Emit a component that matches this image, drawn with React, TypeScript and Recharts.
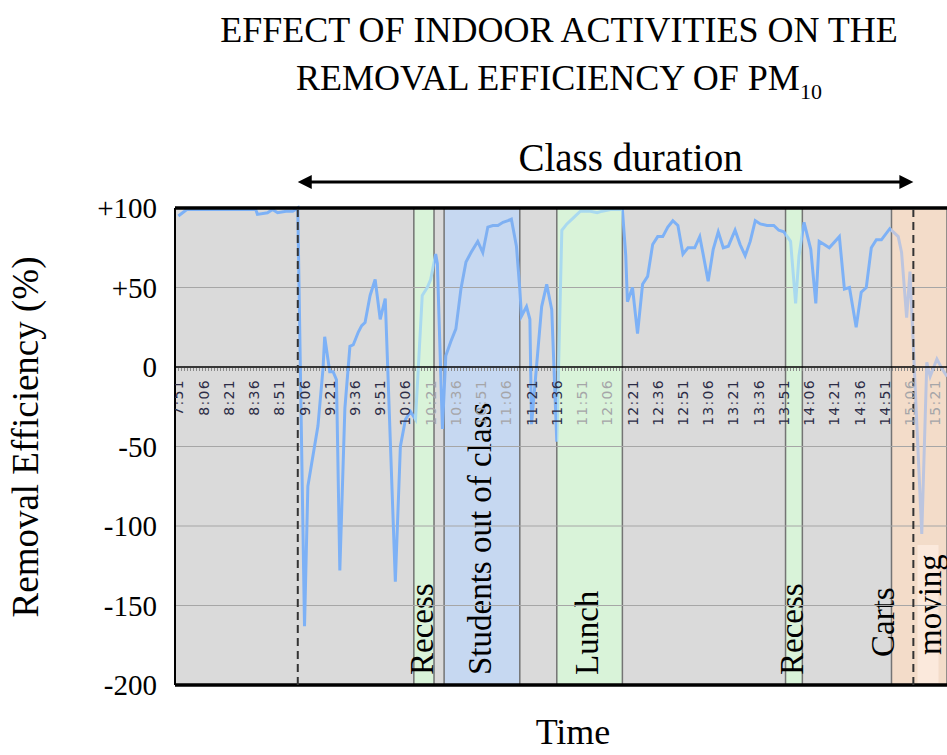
import React from 'react';
import {
  ComposedChart,
  Line,
  Scatter,
  XAxis,
  YAxis,
  CartesianGrid,
  ReferenceArea,
  ReferenceLine
} from 'recharts';

// time of reading (h:mm) and removal efficiency (%)
const times = [
  '7:51', '7:56', '8:37', '8:38', '8:44', '8:47', '8:50', '8:55', '8:59', '9:02',
  '9:06', '9:08', '9:14', '9:17', '9:18', '9:21', '9:23', '9:25', '9:27', '9:30',
  '9:33', '9:35', '9:38', '9:40', '9:42', '9:45', '9:48', '9:51', '9:54', '10:00',
  '10:03', '10:06', '10:09', '10:12', '10:16', '10:19', '10:21', '10:24', '10:25', '10:28',
  '10:30', '10:33', '10:36', '10:39', '10:42', '10:45', '10:49', '10:52', '10:55', '10:58',
  '11:01', '11:04', '11:07', '11:09', '11:12', '11:14', '11:15', '11:17', '11:18', '11:20',
  '11:21', '11:27', '11:30', '11:33', '11:36', '11:39', '11:42', '11:46', '11:50', '11:56',
  '12:00', '12:03', '12:08', '12:15', '12:17', '12:18', '12:21', '12:24', '12:27', '12:30',
  '12:33', '12:36', '12:39', '12:42', '12:45', '12:48', '12:51', '12:54', '12:58', '13:01',
  '13:03', '13:06', '13:09', '13:12', '13:15', '13:18', '13:22', '13:25', '13:28', '13:31',
  '13:34', '13:37', '13:41', '13:45', '13:48', '13:51', '13:55', '13:58', '14:00', '14:03',
  '14:07', '14:10', '14:12', '14:15', '14:18', '14:24', '14:27', '14:30', '14:34', '14:37',
  '14:40', '14:43', '14:46', '14:49', '14:54', '14:59', '15:01', '15:04', '15:06', '15:13',
  '15:16', '15:18', '15:22', '15:25', '15:28'
];
const removal = [
  95, 99, 99, 96, 97, 99, 97, 98, 98, 100,
  -163, -75, -37, -1, 19, -3, -3, -8, -128, -26,
  13, 14, 22, 26, 28, 45, 55, 30, 43, -135,
  -50, -33, -28, -33, 45, 50, 55, 71, 65, -39,
  7, 16, 24, 49, 66, 72, 79, 72, 88, 89,
  89, 91, 92, 93, 76, 49, 32, 36, 38, 30,
  -36, 38, 52, 36, -47, 86, 90, 94, 98, 98,
  97, 98, 99, 99, 70, 41, 50, 21, 52, 57,
  77, 82, 82, 88, 92, 89, 71, 75, 75, 82,
  71, 54, 74, 85, 75, 76, 86, 77, 70, 79,
  92, 90, 89, 89, 86, 85, 79, 40, 70, 91,
  74, 40, 79, 77, 75, 82, 49, 50, 25, 47,
  50, 75, 80, 80, 87, 82, 72, 31, 60, -105,
  3, -6, 5, -1, -6
];

const tickTimes = [
  '7:51', '8:06', '8:21', '8:36', '8:51', '9:06', '9:21', '9:36', '9:51', '10:06',
  '10:21', '10:36', '10:51', '11:06', '11:21', '11:36', '11:51', '12:06', '12:21', '12:36',
  '12:51', '13:06', '13:21', '13:36', '13:51', '14:06', '14:21', '14:36', '14:51', '15:06',
  '15:21'
];
const yTicks = [-200, -150, -100, -50, 0, 50, 100];
const gridValues = [-150, -100, -50, 50];

// activity periods
const bandStarts = ['10:11', '10:29', '11:36', '13:52', '14:55'];
const bandEnds = ['10:23', '11:14', '12:15', '14:02', '15:28'];
const bandKinds = ['recess', 'out', 'lunch', 'recess', 'carts'];
const bandLabels = ['Recess', 'Students out of class', 'Lunch', 'Recess', 'Carts'];
const classStart = '9:02';
const classEnd = '15:08';
const viewStart = '7:49';
const viewEnd = '15:28';

const toMin = (s: string) => {
  const [h, m] = s.split(':').map(Number);
  return h * 60 + m;
};

const series = times.map((t, i) => ({ t: toMin(t), v: removal[i] }));
const tickRows = tickTimes.map((t) => ({ t: toMin(t), v: 0, label: t }));

const bandFill: Record<string, string> = {
  recess: '#d9f3d9',
  out: '#c6d8f1',
  lunch: '#d9f3d9',
  carts: '#f3dcc9'
};
const lineTint: Record<string, string> = {
  recess: '#a9d9ef',
  out: '#7fb0f2',
  lunch: '#a9d9ef',
  carts: '#bcc5df'
};
const BASE_LINE = '#7db1f6';
const SERIF = '"Liberation Serif", "Times New Roman", serif';

const t0 = series[0].t;
const t1 = series[series.length - 1].t;
const off = (t: number) => Math.min(1, Math.max(0, (t - t0) / (t1 - t0)));
const stops: { o: number; c: string }[] = [{ o: 0, c: BASE_LINE }];
bandStarts.forEach((s, i) => {
  const tint = lineTint[bandKinds[i]];
  stops.push({ o: off(toMin(s)), c: BASE_LINE }, { o: off(toMin(s)), c: tint });
  stops.push({ o: off(toMin(bandEnds[i])), c: tint });
  if (toMin(bandEnds[i]) < t1) stops.push({ o: off(toMin(bandEnds[i])), c: BASE_LINE });
});

const insideBand = (t: number) =>
  bandStarts.some((s, i) => t > toMin(s) && t < toMin(bandEnds[i]));

const TickLabel = (props: any) => {
  const { cx, cy, payload } = props;
  if (cx == null || cy == null) return null;
  return (
    <text
      transform={`translate(${cx},${cy + 12}) rotate(-90)`}
      textAnchor="end"
      dy="0.36em"
      fontFamily="DejaVu Sans, sans-serif"
      fontSize={14}
      letterSpacing={1.3}
      fill={insideBand(payload.t) ? '#a5a5a8' : '#2c2c46'}
    >
      {payload.label}
    </text>
  );
};

const vText = (x: number, y: number, s: string) => (
  <text
    transform={`translate(${x},${y}) rotate(-90)`}
    dy="0.33em"
    textAnchor="start"
    fontFamily={SERIF}
    fontSize={33}
    fill="#000"
  >
    {s}
  </text>
);

const bandLabel = (i: number) => (props: any) => {
  const vb = props.viewBox;
  if (!vb) return null;
  const bottom = vb.y + vb.height;
  if (bandKinds[i] === 'carts') {
    return (
      <g>
        {vText(vb.x - 8, bottom - 28, bandLabels[i])}
        <rect x={vb.x + 26} y={bottom - 140} width={21} height={138} fill="#fbe9dc" />
        {vText(vb.x + 39, bottom - 30, 'moving')}
      </g>
    );
  }
  return vText(vb.x + vb.width / 2 - 2, bottom - 10, bandLabels[i]);
};

const ClassArrow = (props: any) => {
  const { x1, y1, x2, y2 } = props;
  if (x1 == null) return null;
  return (
    <g>
      <line x1={x1 + 10} y1={y1} x2={x2 - 10} y2={y2} stroke="#000" strokeWidth={3} />
      <polygon points={`${x1},${y1} ${x1 + 14},${y1 - 7} ${x1 + 14},${y1 + 7}`} fill="#000" />
      <polygon points={`${x2},${y2} ${x2 - 14},${y2 - 7} ${x2 - 14},${y2 + 7}`} fill="#000" />
      <text
        x={(x1 + x2) / 2 + 25}
        y={y1 - 11}
        textAnchor="middle"
        fontFamily={SERIF}
        fontSize={39}
        fill="#000"
      >
        Class duration
      </text>
    </g>
  );
};

export default function App() {
  return (
    <div style={{ position: 'absolute', left: 0, top: 0, width: 947, height: 755, background: '#fff' }}>
      <ComposedChart
        width={947}
        height={755}
        data={series}
        margin={{ top: 208, right: 0, bottom: 70, left: 100 }}
      >
        <defs>
          <linearGradient id="effStroke" x1="0" y1="0" x2="1" y2="0">
            {stops.map((s, i) => (
              <stop key={i} offset={s.o} stopColor={s.c} />
            ))}
          </linearGradient>
        </defs>
        <CartesianGrid horizontal={false} vertical={false} fill="#dadada" />
        <XAxis
          dataKey="t"
          type="number"
          domain={[toMin(viewStart), toMin(viewEnd)]}
          allowDataOverflow
          hide
        />
        <YAxis
          type="number"
          domain={[-200, 100]}
          ticks={yTicks}
          interval={0}
          axisLine={false}
          tickLine={false}
          tickMargin={12}
          width={75}
          tickFormatter={(v: number) => (v > 0 ? `+${v}` : `${v}`)}
          tick={{ fontFamily: SERIF, fontSize: 29, fill: '#000' }}
        />
        {bandStarts.map((s, i) => (
          <ReferenceArea
            key={'band' + i}
            x1={toMin(s)}
            x2={toMin(bandEnds[i])}
            y1={-200}
            y2={100}
            fill={bandFill[bandKinds[i]]}
            fillOpacity={1}
            stroke="#747474"
            strokeWidth={1.5}
            label={bandLabel(i)}
          />
        ))}
        {gridValues.map((g) => (
          <ReferenceLine key={'g' + g} y={g} stroke="#a6a6a6" strokeWidth={1} zIndex={150} />
        ))}
        <ReferenceLine
          y={-1.5}
          stroke="#8a8a8a"
          strokeWidth={3}
          strokeDasharray="1 2"
          zIndex={150}
        />
        <Line
          type="linear"
          dataKey="v"
          stroke="url(#effStroke)"
          strokeWidth={3}
          dot={false}
          activeDot={false}
          isAnimationActive={false}
        />
        <ReferenceLine y={0} stroke="#000" strokeWidth={1.5} zIndex={450} />
        <ReferenceLine y={100} stroke="#000" strokeWidth={3.5} zIndex={450} />
        <ReferenceLine y={-200} stroke="#000" strokeWidth={3.5} zIndex={450} />
        <ReferenceLine x={toMin(viewStart)} stroke="#000" strokeWidth={2} zIndex={450} />
        <ReferenceLine
          x={toMin(classStart)}
          stroke="#333"
          strokeWidth={2}
          strokeDasharray="8 5"
          zIndex={450}
        />
        <ReferenceLine
          x={toMin(classEnd)}
          stroke="#333"
          strokeWidth={2}
          strokeDasharray="8 5"
          zIndex={450}
        />
        <ReferenceLine
          segment={[
            { x: toMin(classStart), y: 116.4 },
            { x: toMin(classEnd), y: 116.4 }
          ]}
          ifOverflow="visible"
          shape={<ClassArrow />}
        />
        <Scatter
          data={tickRows}
          dataKey="v"
          shape={<TickLabel />}
          isAnimationActive={false}
        />
      </ComposedChart>
      <svg
        width={947}
        height={755}
        style={{ position: 'absolute', left: 0, top: 0, pointerEvents: 'none' }}
      >
        <text x={559} y={42} textAnchor="middle" fontFamily={SERIF} fontSize={36} fill="#000">
          EFFECT OF INDOOR ACTIVITIES ON THE
        </text>
        <text x={559} y={90} textAnchor="middle" fontFamily={SERIF} fontSize={36} fill="#000">
          REMOVAL EFFICIENCY OF PM
          <tspan fontSize={22} dy={9}>10</tspan>
        </text>
        <text
          transform="translate(38,437) rotate(-90)"
          textAnchor="middle"
          fontFamily={SERIF}
          fontSize={37}
          fill="#000"
        >
          Removal Efficiency (%)
        </text>
        <text x={573} y={744} textAnchor="middle" fontFamily={SERIF} fontSize={36} fill="#000">
          Time
        </text>
      </svg>
    </div>
  );
}
